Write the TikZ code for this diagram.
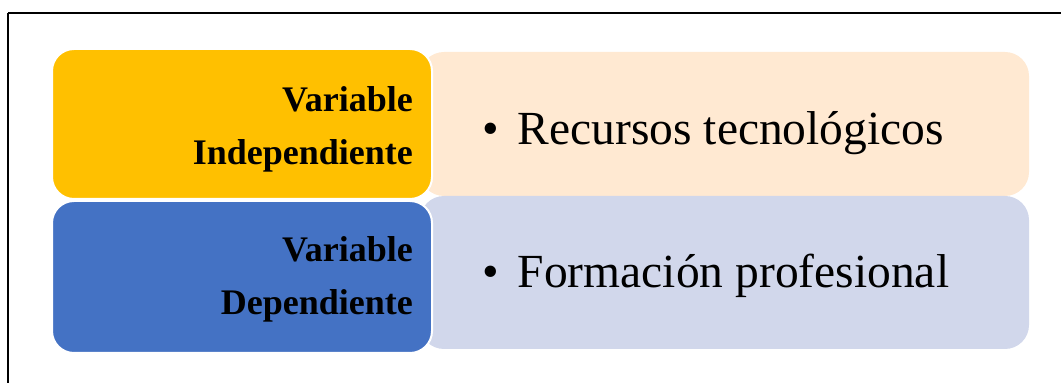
\documentclass[tikz,border=0pt]{standalone}
\usepackage{fontspec}
\setmainfont{Liberation Serif}
\definecolor{varyellow}{HTML}{FFC000}
\definecolor{varblue}{HTML}{4472C4}
\definecolor{lightbeige}{HTML}{FFE9D2}
\definecolor{lightlav}{HTML}{D1D7EB}
\tikzset{
  leftbox/.style={draw=white, line width=2pt, rounded corners=22pt},
  rightbox/.style={rounded corners=24pt},
  lbl/.style={inner sep=0pt, anchor=base east, font=\fontsize{36}{44}\selectfont\bfseries},
  item/.style={inner sep=0pt, anchor=base west, font=\fontsize{47.5}{56}\selectfont},
}
\begin{document}
\begin{tikzpicture}[x=1pt,y=1pt]
\useasboundingbox (0,0) rectangle (1061,383);
\draw[line width=2pt] (8,370) -- (1062,370);
\draw[line width=2pt] (8,370) -- (8,-2);
% right boxes
\fill[lightbeige, rightbox] (420,331) rectangle (1029,187);
\fill[lightlav, rightbox] (420,187) rectangle (1029,34);
% left boxes
\filldraw[fill=varyellow, leftbox] (52,334) rectangle (432,184);
\filldraw[fill=varblue, leftbox] (52,182) rectangle (432,30);
% texts
\node[lbl] (iv1) at (413,271) {Variable};
\node[lbl] (iv2) at (413,218) {Independiente};
\node[lbl] (dv1) at (413,121) {Variable};
\node[lbl] (dv2) at (413,68) {Dependiente};
\node[item] (r1) at (482,238) {•\hspace{19pt}Recursos tecnológicos};
\node[item] (r2) at (482,95) {•\hspace{19pt}Formación profesional};
\end{tikzpicture}
\end{document}
